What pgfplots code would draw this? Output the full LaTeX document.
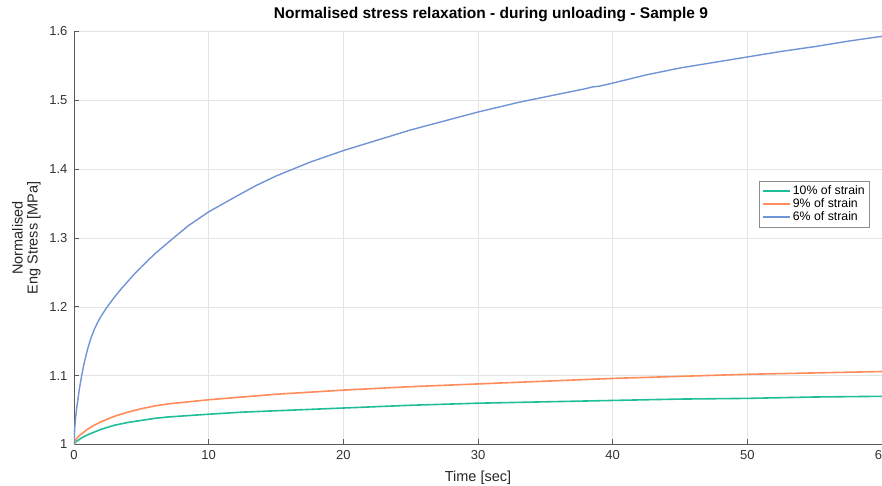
\documentclass[border=0pt]{standalone}
\usepackage{pgfplots}
\pgfplotsset{compat=1.18}
\usepackage{fontspec}
\setmainfont{Liberation Sans}
\definecolor{cgreen}{RGB}{32,190,152}
\definecolor{corange}{RGB}{255,140,90}
\definecolor{cblue}{RGB}{112,148,214}
\definecolor{cgrid}{RGB}{228,228,228}
\definecolor{caxis}{RGB}{90,90,90}
\begin{document}
\begin{tikzpicture}
\begin{axis}[
  scale only axis,
  width=808pt, height=413pt,
  xmin=0, xmax=60, ymin=1, ymax=1.6,
  xtick={0,10,20,30,40,50,60},
  ytick={1,1.1,1.2,1.3,1.4,1.5,1.6},
  axis x line*=bottom, axis y line*=left,
  axis line style={caxis, line width=0.8pt, -},
  tick align=inside,
  major tick length=5pt,
  tick style={caxis, line width=0.8pt},
  grid=major,
  major grid style={cgrid, line width=0.6pt},
  /pgf/number format/assume math mode=true,
  ticklabel style={font=\fontsize{13}{15}\selectfont, text=black!80},
  xticklabel style={yshift=-2pt},
  yticklabel style={xshift=-3pt},
  title={\textbf{Normalised stress relaxation - during unloading - Sample 9}},
  title style={at={(axis description cs:0.516,1)}, anchor=south, yshift=0pt, font=\fontsize{15.5}{17}\selectfont},
  xlabel={Time [sec]},
  xlabel style={font=\fontsize{14.5}{16}\selectfont, text=black!85, at={(axis description cs:0.5,0)}, anchor=north, yshift=-23pt},
  ylabel={Normalised\\Eng Stress [MPa]},
  ylabel style={font=\fontsize{14.5}{15}\selectfont, text=black!85, align=center, at={(axis description cs:-0.037,0.5)}, anchor=south, rotate=0},
  legend style={at={(axis description cs:0.985,0.639)}, anchor=north east, draw=black!45, font=\fontsize{12.3}{13}\selectfont, row sep=-1.5pt, inner sep=3pt, fill=white},
  legend cell align=left,
  legend image code/.code={\draw[#1] (0pt,0pt) -- (27pt,0pt);},
]
\addplot[cgreen, line width=1.6pt] coordinates {
(0,1.000) (0.05,1.002) (0.1,1.003) (0.2,1.005) (0.3,1.006) (0.45,1.008) (0.6,1.010) (0.8,1.012) (1,1.014) (1.5,1.018) (2,1.022)
(2.5,1.025) (3,1.028) (4,1.032) (5,1.035) (6,1.038) (7,1.040) (8.5,1.042) (10,1.044) (12.5,1.047) (15,1.049) (20,1.053)
(25,1.057) (30,1.060) (35,1.062) (40,1.064) (45,1.066) (50,1.067) (55,1.069) (60,1.070)
};
\addlegendentry{10\% of strain}
\addplot[corange, line width=1.6pt] coordinates {
(0,1.000) (0.05,1.004) (0.1,1.006) (0.2,1.009) (0.3,1.011) (0.45,1.014) (0.6,1.016) (0.8,1.019) (1,1.022) (1.5,1.028) (2,1.033)
(2.5,1.037) (3,1.041) (4,1.047) (5,1.052) (6,1.056) (7,1.059) (8.5,1.062) (10,1.065) (12.5,1.069) (15,1.073) (20,1.079)
(25,1.084) (30,1.088) (35,1.092) (40,1.096) (45,1.099) (50,1.102) (55,1.104) (60,1.106)
};
\addlegendentry{9\% of strain}
\addplot[cblue, line width=1.4pt] coordinates {
(0,1.000) (0.05,1.022) (0.1,1.035) (0.17,1.048) (0.25,1.060) (0.4,1.081) (0.57,1.100) (0.75,1.118)
(1.0,1.138) (1.25,1.154) (1.5,1.167) (1.75,1.177) (2,1.186) (2.5,1.201) (3,1.214) (3.5,1.226)
(4,1.237) (4.5,1.248) (5,1.258) (6,1.277) (7.2,1.297) (8.5,1.318)
(10,1.338) (11,1.349) (12,1.360) (13.5,1.376) (15,1.390) (17.5,1.410) (20,1.427) (22.5,1.442) (25,1.457)
(27.5,1.470) (30,1.483) (33,1.497) (36.5,1.511) (38,1.517) (38.5,1.5195) (39,1.5205) (40,1.525)
(42.5,1.537) (45,1.547) (47.5,1.555) (50,1.563) (52.5,1.571) (55,1.578) (57.5,1.586) (60,1.593)
};
\addlegendentry{6\% of strain}
\end{axis}
\pgfresetboundingbox
\path (current axis.south west) ++(-74pt,-41.5pt) coordinate (bbsw);
\path (current axis.north east) ++(0pt,31.5pt) coordinate (bbne);
\path[use as bounding box] (bbsw) rectangle (bbne);
\end{tikzpicture}
\end{document}
